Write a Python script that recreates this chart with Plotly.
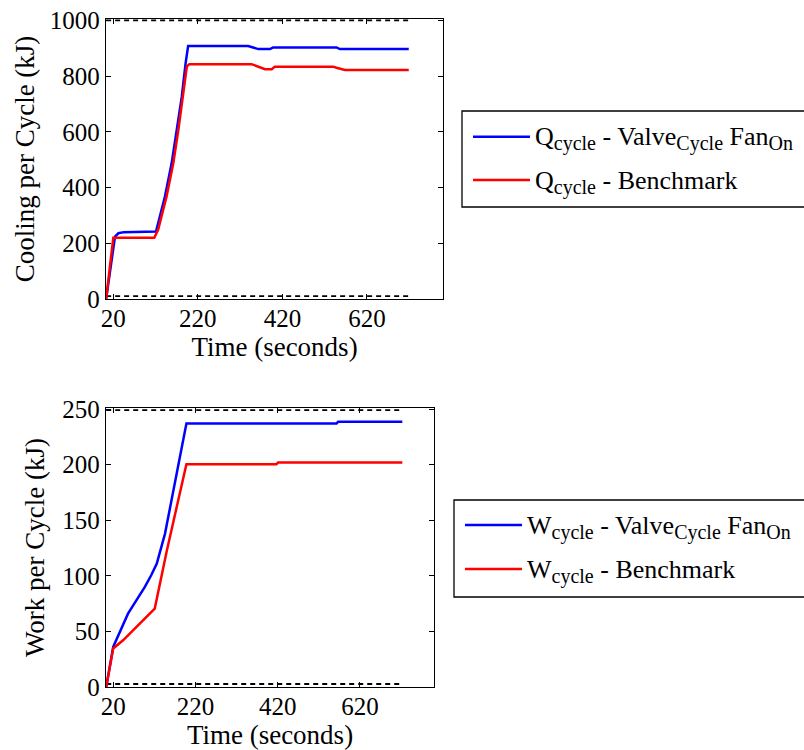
import plotly.graph_objects as go

# ---------------- data ----------------
# Top: cooling per cycle (kJ)
q_valve_t = [3, 24, 32, 45, 121, 142, 158, 170, 182, 191, 197, 339, 363, 391, 398, 548, 556, 719]
q_valve_v = [0, 224, 236, 240, 242, 367, 487, 607, 726, 846, 908, 908, 897, 897, 903, 903, 897, 897]
q_bench_t = [3, 20, 117, 126, 146, 162, 174, 184, 194, 200, 347, 379, 395, 402, 540, 548, 568, 719]
q_bench_v = [0, 220, 220, 248, 368, 488, 608, 728, 835, 843, 843, 825, 825, 834, 834, 830, 822, 822]

# Bottom: work per cycle (kJ)
w_valve_t = [3, 20, 56, 97, 113, 126, 146, 170, 198, 563, 567, 723]
w_valve_v = [0, 36, 66, 90, 101, 111, 138, 183, 237, 237, 238.7, 238.7]
w_bench_t = [3, 20, 44, 121, 150, 174, 198, 417, 421, 723]
w_bench_v = [0, 34.6, 42, 70.6, 122, 162, 200.5, 200.5, 202, 202]

# dotted reference lines
q_ref_t = [3, 719]
q_ref_hi = [1000, 1000]
q_ref_lo = [10, 10]
w_ref_t = [3, 723]
w_ref_hi = [249, 249]
w_ref_lo = [2.7, 2.7]

x_ticks = [20, 220, 420, 620]
q_ticks = [0, 200, 400, 600, 800, 1000]
w_ticks = [0, 50, 100, 150, 200, 250]

SUB = "<sub><span style='font-size:20px'>{}</span></sub>"
legend_q = ["Q" + SUB.format("cycle") + " - Valve" + SUB.format("Cycle") + " Fan" + SUB.format("On"),
            "Q" + SUB.format("cycle") + " - Benchmark"]
legend_w = ["W" + SUB.format("cycle") + " - Valve" + SUB.format("Cycle") + " Fan" + SUB.format("On"),
            "W" + SUB.format("cycle") + " - Benchmark"]

BLUE = "#0000ff"
RED = "#ff0000"
FONT = "Liberation Serif, DejaVu Serif, serif"
FS_TICK = 25
FS_TITLE = 27
FS_LEG = 26

fig = go.Figure()

def ref_line(t, v, xa, ya):
    fig.add_trace(go.Scatter(x=t, y=v, mode="lines", xaxis=xa, yaxis=ya,
                             line=dict(color="black", width=1.8, dash="5px,4px"),
                             showlegend=False, hoverinfo="skip"))

ref_line(q_ref_t, q_ref_hi, "x", "y")
ref_line(q_ref_t, q_ref_lo, "x", "y")
ref_line(w_ref_t, w_ref_hi, "x2", "y2")
ref_line(w_ref_t, w_ref_lo, "x2", "y2")

fig.add_trace(go.Scatter(x=q_valve_t, y=q_valve_v, mode="lines", xaxis="x", yaxis="y",
                         line=dict(color=BLUE, width=2.5), name=legend_q[0], showlegend=False))
fig.add_trace(go.Scatter(x=q_bench_t, y=q_bench_v, mode="lines", xaxis="x", yaxis="y",
                         line=dict(color=RED, width=2.5), name=legend_q[1], showlegend=False))
fig.add_trace(go.Scatter(x=w_valve_t, y=w_valve_v, mode="lines", xaxis="x2", yaxis="y2",
                         line=dict(color=BLUE, width=2.5), name=legend_w[0], showlegend=False))
fig.add_trace(go.Scatter(x=w_bench_t, y=w_bench_v, mode="lines", xaxis="x2", yaxis="y2",
                         line=dict(color=RED, width=2.5), name=legend_w[1], showlegend=False))

axis_common = dict(showgrid=False, zeroline=False, showline=True, linecolor="black",
                   linewidth=1.3, mirror="ticks", ticks="inside", ticklen=5,
                   tickcolor="black", tickwidth=1.2, automargin=False,
                   tickfont=dict(family=FONT, size=FS_TICK, color="black"))

def ttl(text, standoff):
    return dict(text=text, font=dict(family=FONT, size=FS_TITLE, color="black"), standoff=standoff)

fig.update_layout(
    template="none",
    width=804, height=750,
    margin=dict(l=0, r=0, t=0, b=0, autoexpand=False),
    paper_bgcolor="white", plot_bgcolor="white",
    font=dict(family=FONT, size=FS_TICK, color="black"),
    showlegend=False,
    xaxis=dict(domain=[106/804, 443/804], range=[2.7, 800], tickvals=x_ticks,
               anchor="y", title=ttl("Time (seconds)", 5), ticklabelstandoff=-3,
               **axis_common),
    yaxis=dict(domain=[(750-299)/750, (750-19)/750], range=[0, 1005], tickvals=q_ticks,
               anchor="x", title=ttl("Cooling per Cycle (kJ)", 7), **axis_common),
    xaxis2=dict(domain=[106/804, 434/804], range=[2.5, 800], tickvals=x_ticks,
                anchor="y2", title=ttl("Time (seconds)", 5), ticklabelstandoff=-3,
                **axis_common),
    yaxis2=dict(domain=[(750-687)/750, (750-408)/750], range=[0, 251], tickvals=w_ticks,
                anchor="x2", title=ttl("Work per Cycle (kJ)", 9), **axis_common),
)

# ---------- manual legends ----------
def px_x(p):
    return p / 804

def px_y(p):
    return 1 - p / 750

def legend_box(x0, y0, y1, line_x0, line_x1, ys, text_x, labels):
    fig.add_shape(type="rect", xref="paper", yref="paper",
                  x0=px_x(x0), x1=px_x(830), y0=px_y(y1), y1=px_y(y0),
                  line=dict(color="black", width=1.3), fillcolor="white", layer="below")
    for yy, col, lab in zip(ys, [BLUE, RED], labels):
        fig.add_shape(type="line", xref="paper", yref="paper",
                      x0=px_x(line_x0), x1=px_x(line_x1), y0=px_y(yy), y1=px_y(yy),
                      line=dict(color=col, width=2.5))
        fig.add_annotation(xref="paper", yref="paper", x=px_x(text_x), y=px_y(yy + 2),
                           xanchor="left", yanchor="middle", showarrow=False,
                           text=lab, font=dict(family=FONT, size=FS_LEG, color="black"))

legend_box(462, 111, 207, 473, 530, [136.7, 180], 533, legend_q)
legend_box(454, 500, 597, 465, 522, [525, 569], 525, legend_w)

fig.write_html("out.html")
